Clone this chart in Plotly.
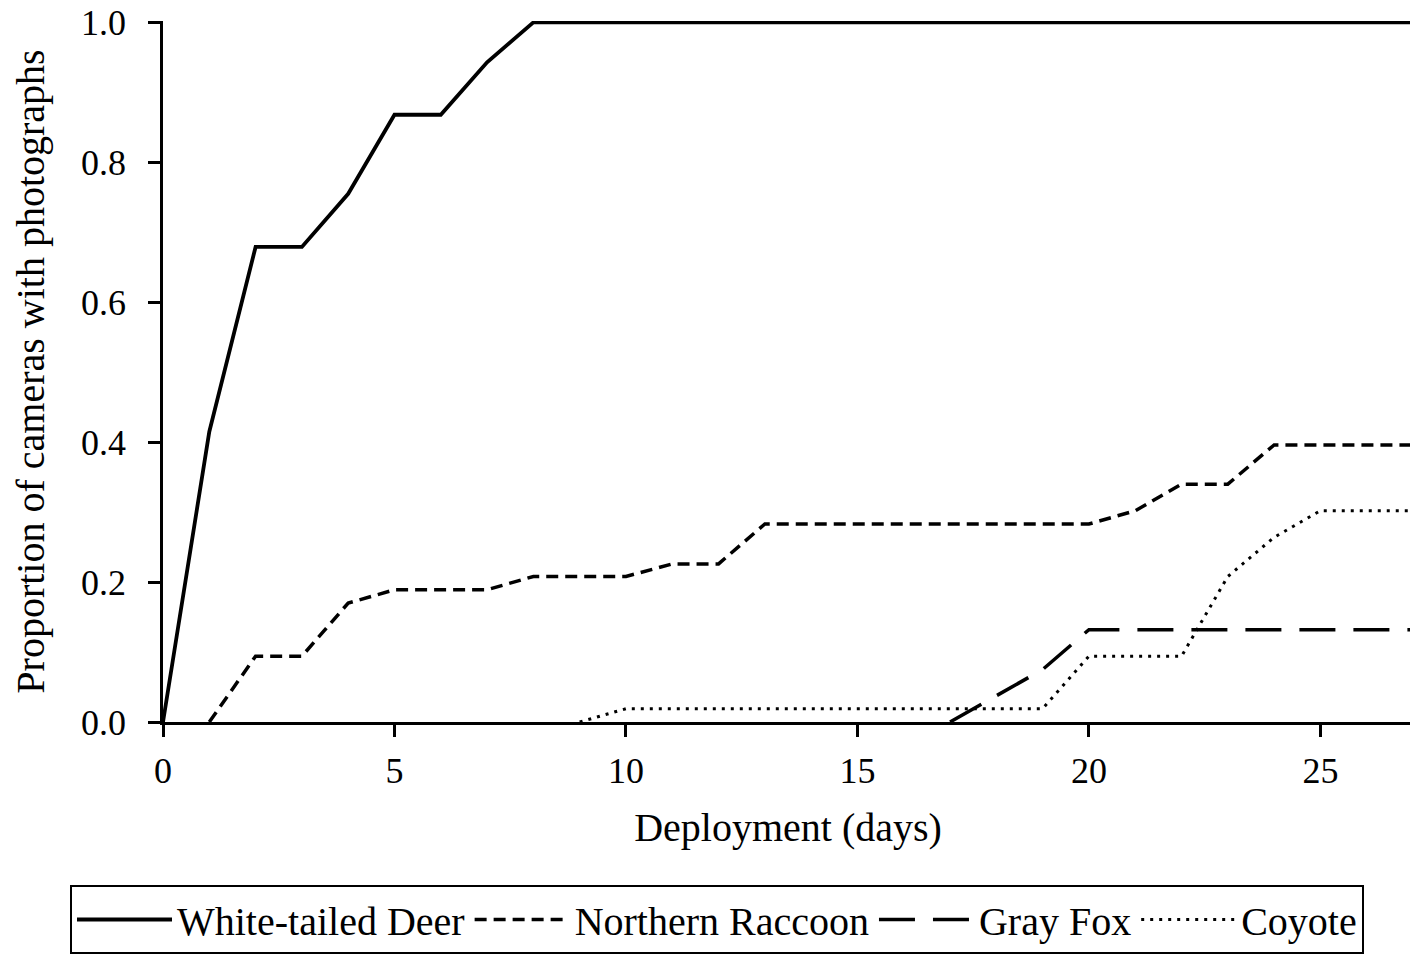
import plotly.graph_objects as go

# Proportion of cameras with photographs by deployment day
deer_days = list(range(0, 28))
deer = [0.0, 0.415, 0.679, 0.679, 0.755, 0.868, 0.868, 0.943,
        1.0, 1.0, 1.0, 1.0, 1.0, 1.0, 1.0, 1.0, 1.0, 1.0, 1.0, 1.0,
        1.0, 1.0, 1.0, 1.0, 1.0, 1.0, 1.0, 1.0]

raccoon_days = list(range(1, 28))
raccoon = [0.0, 0.094, 0.094, 0.170, 0.189, 0.189, 0.189, 0.208, 0.208, 0.208,
           0.226, 0.226, 0.283, 0.283, 0.283, 0.283, 0.283, 0.283, 0.283, 0.283,
           0.302, 0.340, 0.340, 0.396, 0.396, 0.396, 0.396]

fox_days = list(range(17, 28))
fox = [0.0, 0.038, 0.075, 0.132, 0.132, 0.132, 0.132, 0.132, 0.132, 0.132, 0.132]

coyote_days = list(range(9, 28))
coyote = [0.0, 0.019, 0.019, 0.019, 0.019, 0.019, 0.019, 0.019, 0.019, 0.019,
          0.019, 0.094, 0.094, 0.094, 0.208, 0.264, 0.302, 0.302, 0.302]

x_ticks = [0, 5, 10, 15, 20, 25]
y_ticks = [0.0, 0.2, 0.4, 0.6, 0.8, 1.0]

FONT = "Liberation Serif, Times New Roman, serif"

fig = go.Figure()
fig.add_trace(go.Scatter(x=deer_days, y=deer, mode="lines", name="White-tailed Deer",
                         line=dict(color="black", width=3.8)))
fig.add_trace(go.Scatter(x=raccoon_days, y=raccoon, mode="lines", name="Northern Raccoon",
                         line=dict(color="black", width=3.5, dash="12px,7px")))
fig.add_trace(go.Scatter(x=fox_days, y=fox, mode="lines", name="Gray Fox",
                         line=dict(color="black", width=3.5, dash="36px,18px")))
fig.add_trace(go.Scatter(x=coyote_days, y=coyote, mode="lines", name="Coyote",
                         line=dict(color="black", width=3, dash="3px,6px")))

# the page body has an 8px margin, so the figure is 8px smaller than the window
# plot area (in figure px): x 155..1405, y 13..714
fig.update_layout(
    width=1410, height=948,
    margin=dict(l=155, r=5, t=13, b=234, autoexpand=False),
    plot_bgcolor="white", paper_bgcolor="white",
    font=dict(family=FONT, size=36, color="black"),
    showlegend=True,
    legend=dict(
        orientation="h", xref="paper", yref="paper",
        x=(62 - 155) / 1250, xanchor="left", y=-(877 - 714) / 701, yanchor="top",
        bordercolor="black", borderwidth=2,
        font=dict(family=FONT, size=40, color="black"),
        itemwidth=95, traceorder="normal",
    ),
)
fig.update_xaxes(
    range=[0, 27], tickvals=x_ticks, showgrid=False, zeroline=False,
    showline=True, linecolor="black", linewidth=2.5, automargin=False,
    ticks="outside", ticklen=12, tickwidth=2.5, tickcolor="black",
    ticklabelstandoff=3, tickfont=dict(size=36), ticklabeloverflow="allow",
    title=dict(text="Deployment (days)", font=dict(size=40), standoff=24),
)
fig.update_yaxes(
    range=[0, 1.002], tickvals=y_ticks, tickformat=".1f", showgrid=False, zeroline=False,
    showline=True, linecolor="black", linewidth=2.5, automargin=False,
    ticks="outside", ticklen=12, tickwidth=2.5, tickcolor="black",
    ticklabelstandoff=15, tickfont=dict(size=36), ticklabeloverflow="allow",
    title=dict(text="Proportion of cameras with photographs", font=dict(size=40), standoff=27),
)

fig.write_html("out.html")
